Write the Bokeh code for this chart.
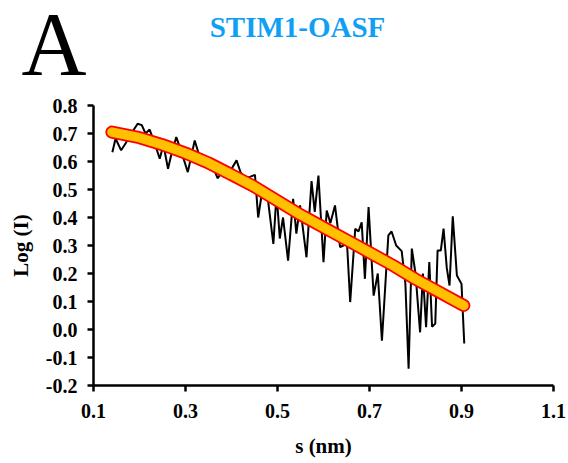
from bokeh.plotting import figure
from bokeh.models import Range1d, FixedTicker, CustomJSTickFormatter
from bokeh.core.properties import value
from bokeh.embed import file_html
from bokeh.resources import INLINE

# experimental data (s in nm^-1, log I)
s_exp = [0.141, 0.148, 0.160, 0.170, 0.182, 0.196, 0.205, 0.213, 0.222, 0.232,
         0.244, 0.252, 0.262, 0.270, 0.280, 0.290, 0.305, 0.320, 0.332, 0.345,
         0.355, 0.370, 0.380, 0.395, 0.411, 0.420, 0.430, 0.440, 0.451, 0.458,
         0.468, 0.478, 0.491, 0.498, 0.505, 0.512, 0.523, 0.534, 0.541, 0.549,
         0.563, 0.574, 0.581, 0.589, 0.600, 0.607, 0.615, 0.625, 0.636, 0.643,
         0.650, 0.658, 0.669, 0.676, 0.683, 0.690, 0.698, 0.709, 0.718, 0.727,
         0.741, 0.748, 0.758, 0.770, 0.778, 0.785, 0.792, 0.800, 0.810, 0.816,
         0.823, 0.830, 0.836, 0.843, 0.848, 0.855, 0.861, 0.868, 0.874, 0.881,
         0.890, 0.900, 0.906]
logI_exp = [0.633, 0.682, 0.640, 0.665, 0.700, 0.735, 0.730, 0.700, 0.714, 0.670,
            0.610, 0.660, 0.574, 0.630, 0.687, 0.640, 0.562, 0.675, 0.610, 0.598,
            0.600, 0.540, 0.565, 0.560, 0.604, 0.560, 0.540, 0.545, 0.552, 0.400,
            0.508, 0.480, 0.306, 0.485, 0.325, 0.400, 0.246, 0.467, 0.342, 0.443,
            0.258, 0.530, 0.420, 0.550, 0.240, 0.425, 0.380, 0.443, 0.294, 0.300,
            0.343, 0.098, 0.360, 0.350, 0.383, 0.181, 0.437, 0.121, 0.200, -0.040,
            0.336, 0.350, 0.300, 0.280, 0.164, -0.140, 0.289, 0.200, -0.010, 0.200,
            0.008, 0.241, 0.010, 0.021, 0.282, 0.282, 0.360, 0.220, 0.157, 0.404,
            0.193, 0.163, -0.050]

# model fits
s_fit = [0.14, 0.20, 0.25, 0.30, 0.35, 0.40, 0.45, 0.50, 0.55, 0.60, 0.65,
         0.70, 0.75, 0.80, 0.85, 0.90, 0.905]
logI_fit = [0.705, 0.685, 0.660, 0.630, 0.595, 0.553, 0.510, 0.460, 0.410,
            0.365, 0.320, 0.275, 0.230, 0.180, 0.135, 0.090, 0.086]

x_ticks = [0.1, 0.3, 0.5, 0.7, 0.9, 1.1]
y_ticks = [-0.2, -0.1, 0.0, 0.1, 0.2, 0.3, 0.4, 0.5, 0.6, 0.7, 0.8]
x_lo, x_hi = 0.1, 1.1
y_lo, y_hi = -0.2, 0.8

panel_letter = "A"
title_text = "STIM1-OASF"
font = "Liberation Serif"

# canvas geometry (pixels); the frame covers the whole canvas
W, H = 566, 460
AX_LEFT, AX_RIGHT = 93, 553      # pixel x of x_lo / x_hi
AX_TOP, AX_BOTTOM = 105, 385     # pixel y of y_hi / y_lo
kx = (x_hi - x_lo) / (AX_RIGHT - AX_LEFT)
ky = (y_hi - y_lo) / (AX_BOTTOM - AX_TOP)

def px_x(px):
    return x_lo + (px - AX_LEFT) * kx

def px_y(py):
    return y_hi + (AX_TOP - py) * ky

p = figure(width=W, height=H, output_backend="svg", toolbar_location=None,
           x_range=Range1d(px_x(0), px_x(W)), y_range=Range1d(px_y(H), px_y(0)),
           min_border=0)
p.outline_line_color = None
p.xgrid.visible = False
p.ygrid.visible = False
p.background_fill_color = "white"

p.line(s_exp, logI_exp, line_color="black", line_width=2)
p.line(s_fit, logI_fit, line_color="#FF0000", line_width=13, line_cap="round")
p.line(s_fit, logI_fit, line_color="#FFC000", line_width=9.5, line_cap="round")

for ax in (p.xaxis[0], p.yaxis[0]):
    ax.axis_line_width = 2.5
    ax.axis_line_color = "black"
    ax.major_tick_line_width = 2.5
    ax.major_tick_line_color = "black"
    ax.major_tick_out = 6
    ax.major_tick_in = 0
    ax.minor_tick_line_color = None
    ax.major_label_text_font = font
    ax.major_label_text_font_style = "bold"
    ax.major_label_text_font_size = "20px"
    ax.major_label_text_color = "black"
    ax.axis_label_text_font = font
    ax.axis_label_text_font_style = "bold"
    ax.axis_label_text_font_size = "21px"
    ax.axis_label_text_color = "black"

p.xaxis.ticker = FixedTicker(ticks=x_ticks)
p.yaxis.ticker = FixedTicker(ticks=y_ticks)
p.xaxis.formatter = CustomJSTickFormatter(code="return tick.toFixed(1);")
p.yaxis.formatter = CustomJSTickFormatter(code="return tick.toFixed(1);")
p.xaxis.bounds = (x_lo, x_hi)
p.yaxis.bounds = (y_lo, y_hi)
p.yaxis.fixed_location = x_lo
p.xaxis.fixed_location = y_lo
p.xaxis.axis_label = "s (nm)"
p.yaxis.axis_label = "Log (I)"
p.xaxis.major_label_standoff = 12
p.yaxis.major_label_standoff = 10
p.xaxis.axis_label_standoff = 13
p.yaxis.axis_label_standoff = 10

# the svg backend draws "alphabetic" text about a third of the font size low
p.text(x=[px_x(21)], y=[px_y(74 - 30)], text=[panel_letter], text_font=value(font),
       text_font_size="90px", text_color="black",
       text_baseline="alphabetic", text_align="left")
p.text(x=[px_x(297)], y=[px_y(36 - 10)], text=[title_text], text_font=value(font),
       text_font_style="bold", text_font_size="29px", text_color="#0FA0F5",
       text_baseline="alphabetic", text_align="center")

open("out.html", "w").write(file_html(p, INLINE))
